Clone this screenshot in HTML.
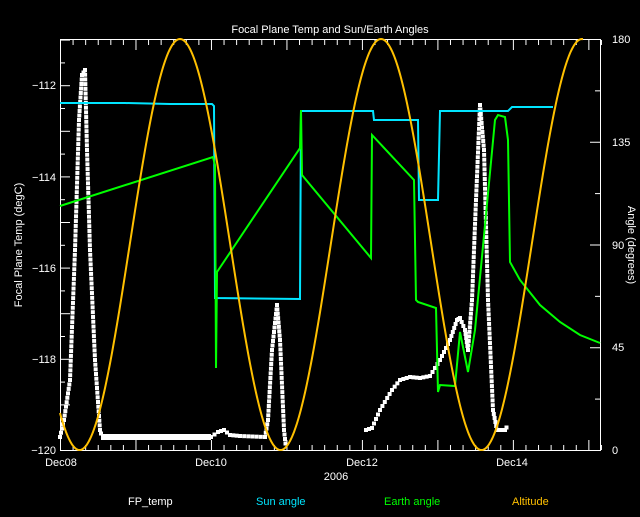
<!DOCTYPE html>
<html><head><style>
body{margin:0;background:#000;}
svg text{font-family:"Liberation Sans",sans-serif;font-size:11px;fill:#fff;}
</style></head><body>
<svg id="s" width="640" height="512" xmlns="http://www.w3.org/2000/svg">
<rect width="640" height="512" fill="#000"/>
<text x="330" y="33" text-anchor="middle" font-size="12">Focal Plane Temp and Sun/Earth Angles</text>
<g id="ax" stroke="#fff" stroke-width="1" fill="none">
<rect x="60.5" y="39.5" width="540" height="411"/>
</g>
<g text-anchor="end">
<text x="56" y="89">−112</text><text x="56" y="181">−114</text><text x="56" y="272">−116</text><text x="56" y="363">−118</text><text x="56" y="454">−120</text>
</g>
<g>
<text x="612" y="43">180</text><text x="612" y="146">135</text><text x="612" y="249">90</text><text x="612" y="351">45</text><text x="612" y="454">0</text>
</g>
<g text-anchor="middle">
<text x="61" y="466">Dec08</text><text x="211" y="466">Dec10</text><text x="362" y="466">Dec12</text><text x="512" y="466">Dec14</text>
<text x="336" y="480">2006</text>
</g>
<text transform="translate(22,245) rotate(-90)" text-anchor="middle">Focal Plane Temp (degC)</text>
<text transform="translate(628,245) rotate(90)" text-anchor="middle">Angle (degrees)</text>
<text x="128" y="505">FP_temp</text>
<text x="256" y="505" style="fill:#00e5ff">Sun angle</text>
<text x="384" y="505" style="fill:#00ff00">Earth angle</text>
<text x="512" y="505" style="fill:#ffc000">Altitude</text>
<g id="fp" fill="#fff"></g>
<polyline fill="none" stroke="#00e5ff" stroke-width="2" points="60,103 125,103 170,104 212,104 214,106 215,298 300,299 301,111 373,111 374,120 418,120 419,200 438,200 440,111 508,111 512,107 553,107"/>
<g fill="none" stroke="#00ff00" stroke-width="2">
<polyline points="60,206 213,157 215,165 216,368 217,272 300,148 301,110 302,175 371,258 372,135 414,180 416,300 418,302 436,308 438,392 440,385 455,386 460,332 468,372 475,330 495,120 498,115 505,117 508,140 510,262 520,280 540,305 560,322 580,335 600,343"/>
</g>
<path id="alt" fill="none" stroke="#ffc000" stroke-width="2"/>
</svg>
<script>
var s=document.getElementById('ax'),h='';
for(var i=0;i<=43;i++){var x=60.5+i*12.58;var L=(i%6==0)?10:5;
h+='<line x1="'+x+'" y1="450" x2="'+x+'" y2="'+(450-L)+'"/><line x1="'+x+'" y1="40" x2="'+x+'" y2="'+(40+L)+'"/>';}
for(var v=0;v<=18;v++){var y=450.5-v*22.8;var L=(v%2==0)?10:5;h+='<line x1="60" y1="'+y+'" x2="'+(60+L)+'" y2="'+y+'"/>';}
for(var v=0;v<=4;v++){var y=450.5-v*102.75;h+='<line x1="600" y1="'+y+'" x2="590" y2="'+y+'"/>';
if(v<4){var y2=y-51.4;h+='<line x1="600" y1="'+y2+'" x2="595" y2="'+y2+'"/>';}}
s.innerHTML+=h;
var d='';for(var x=60;x<=583;x+=1){var y=244.5-205.5*Math.cos(2*Math.PI*(x-180)/201);d+=(x==60?'M':'L')+x+','+y.toFixed(1);}
document.getElementById('alt').setAttribute('d',d);
var pts=[[60,437],[64,420],[70,380],[75,250],[79,120],[82,75],[85,70],[87,150],[90,250],[95,360],[100,430],[102,437]];
var fp='';function seg(a){for(var k=0;k<a.length-1;k++){var p=a[k],q=a[k+1],n=Math.max(2,Math.ceil(Math.hypot(q[0]-p[0],q[1]-p[1])/5));for(var j=0;j<n;j++){var x=p[0]+(q[0]-p[0])*j/n,y=p[1]+(q[1]-p[1])*j/n;fp+='<rect x="'+(x-2)+'" y="'+(y-2)+'" width="4" height="4"/>';}}}
seg(pts);
fp+='<rect x="101" y="434" width="110" height="6"/>';
seg([[211,437],[218,432],[224,430],[230,435],[240,436],[265,437],[268,420],[272,350],[277,305],[280,340],[284,430],[286,448]]);
seg([[366,430],[372,428],[380,410],[392,390],[400,380],[410,377],[420,378],[430,376],[440,360],[450,340],[457,320],[460,318],[465,330],[468,350],[472,300],[476,200],[480,105],[484,150],[488,300],[493,410],[497,430],[505,430],[508,425]]);
document.getElementById('fp').innerHTML=fp;
</script>
</body></html>
